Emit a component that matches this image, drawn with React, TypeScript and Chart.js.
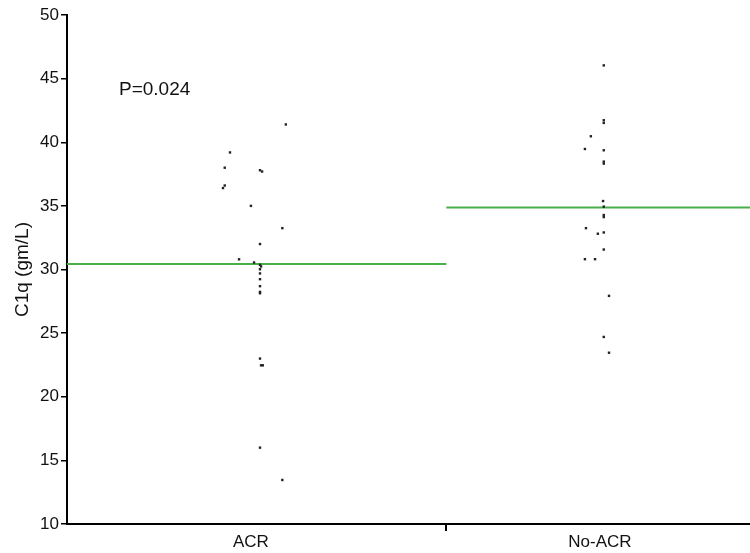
import React, { useEffect, useRef } from "react";
import { Chart, registerables } from "chart.js";

Chart.register(...registerables);

const categories = ["ACR", "No-ACR"];
const categoryPositions = [1, 2];

const acrValues = [41.4, 39.2, 38.0, 37.8, 37.7, 36.6, 36.4, 35.0, 33.25, 32.0, 30.8, 30.55, 30.37, 30.24, 30.02, 29.69, 29.24, 28.69, 28.24, 28.13, 23.0, 22.47, 22.47, 16.0, 13.46];
const acrJitter = [0.1, -0.06, -0.075, 0.026, 0.032, -0.075, -0.08, 0, 0.09, 0.026, -0.034, 0.009, 0.026, 0.029, 0.026, 0.026, 0.026, 0.026, 0.026, 0.026, 0.026, 0.029, 0.034, 0.026, 0.09];

const noAcrValues = [46.04, 41.73, 41.52, 40.47, 39.47, 39.37, 38.48, 38.32, 35.38, 34.94, 34.28, 34.12, 33.25, 32.81, 32.91, 31.57, 30.81, 30.81, 27.93, 24.7, 23.46];
const noAcrJitter = [0.011, 0.011, 0.011, -0.026, -0.043, 0.011, 0.011, 0.011, 0.009, 0.011, 0.011, 0.011, -0.04, -0.006, 0.011, 0.011, -0.043, -0.014, 0.026, 0.011, 0.026];

const yTicks = [10, 15, 20, 25, 30, 35, 40, 45, 50];
const pValueText = "P=0.024";

const X_MIN = 0.473;
const X_MAX = 2.43;
const X_MID = 1.56;
const P_POS = { x: 0.622, y: 44.1 };

const mean = (a: number[]) => a.reduce((s, v) => s + v, 0) / a.length;

export default function App() {
  const ref = useRef<HTMLCanvasElement | null>(null);
  useEffect(() => {
    if (!ref.current) return;
    const acrMean = mean(acrValues);
    const noMean = mean(noAcrValues);
    const font = "Arial, 'Liberation Sans', sans-serif";
    const pPlugin = {
      id: "ptext",
      afterDraw(chart: any) {
        const { ctx, scales } = chart;
        ctx.save();
        ctx.font = `19px ${font}`;
        ctx.fillStyle = "#111";
        ctx.textAlign = "left";
        ctx.textBaseline = "middle";
        ctx.fillText(pValueText, scales.x.getPixelForValue(P_POS.x), scales.y.getPixelForValue(P_POS.y));
        ctx.restore();
      },
    };
    const chart = new Chart(ref.current, {
      type: "scatter",
      data: {
        datasets: [
          {
            data: acrValues.map((v, i) => ({ x: categoryPositions[0] + acrJitter[i], y: v })),
            pointStyle: "rect",
            pointRadius: 1.7,
            pointBorderWidth: 0,
            pointBackgroundColor: "#222",
            showLine: false,
          },
          {
            data: noAcrValues.map((v, i) => ({ x: categoryPositions[1] + noAcrJitter[i], y: v })),
            pointStyle: "rect",
            pointRadius: 1.7,
            pointBorderWidth: 0,
            pointBackgroundColor: "#222",
            showLine: false,
          },
          {
            data: [{ x: X_MIN, y: acrMean }, { x: X_MID, y: acrMean }],
            showLine: true,
            borderColor: "#47B04B",
            borderWidth: 2,
            pointRadius: 0,
          },
          {
            data: [{ x: X_MID, y: noMean }, { x: X_MAX, y: noMean }],
            showLine: true,
            borderColor: "#47B04B",
            borderWidth: 2,
            pointRadius: 0,
          },
        ],
      },
      options: {
        animation: false,
        responsive: true,
        maintainAspectRatio: false,
        layout: { padding: { top: 15, right: 0, left: 0, bottom: 0 } },
        plugins: { legend: { display: false }, tooltip: { enabled: false } },
        scales: {
          x: {
            type: "linear",
            min: X_MIN,
            max: X_MAX,
            afterBuildTicks: (scale: any) => {
              scale.ticks = [
                { value: categoryPositions[0] },
                { value: X_MID },
                { value: categoryPositions[1] },
              ];
            },
            afterFit: (scale: any) => {
              scale.height = 29;
            },
            border: { color: "#000", width: 2 },
            grid: {
              drawOnChartArea: false,
              drawTicks: true,
              tickLength: 7,
              lineWidth: 2,
              color: (ctx: any) => (ctx.tick && Math.abs(ctx.tick.value - X_MID) < 1e-6 ? "#000" : "rgba(0,0,0,0)"),
            },
            ticks: {
              autoSkip: false,
              maxRotation: 0,
              padding: 1,
              color: "#111",
              font: { family: font, size: 17 },
              callback: (v: any) => {
                const i = categoryPositions.indexOf(Number(v));
                return i >= 0 ? categories[i] : "";
              },
            },
          },
          y: {
            type: "linear",
            min: 10,
            max: 50,
            afterBuildTicks: (scale: any) => {
              scale.ticks = yTicks.map((v) => ({ value: v }));
            },
            afterFit: (scale: any) => {
              scale.width = 67;
            },
            border: { color: "#000", width: 2 },
            grid: { drawOnChartArea: false, drawTicks: true, tickLength: 6, color: "#000", lineWidth: 1.5 },
            ticks: { padding: 2, color: "#111", font: { family: font, size: 17 } },
            title: {
              display: true,
              text: "C1q (gm/L)",
              color: "#111",
              font: { family: font, size: 19 },
              padding: { top: 11, bottom: 0 },
            },
          },
        },
      },
      plugins: [pPlugin],
    });
    return () => chart.destroy();
  }, []);
  return (
    <div style={{ position: "absolute", left: 0, top: 0, width: 750, height: 553, overflow: "hidden", background: "#fff" }}>
      <div style={{ position: "relative", width: 754, height: 553 }}>
        <canvas ref={ref} />
      </div>
    </div>
  );
}
